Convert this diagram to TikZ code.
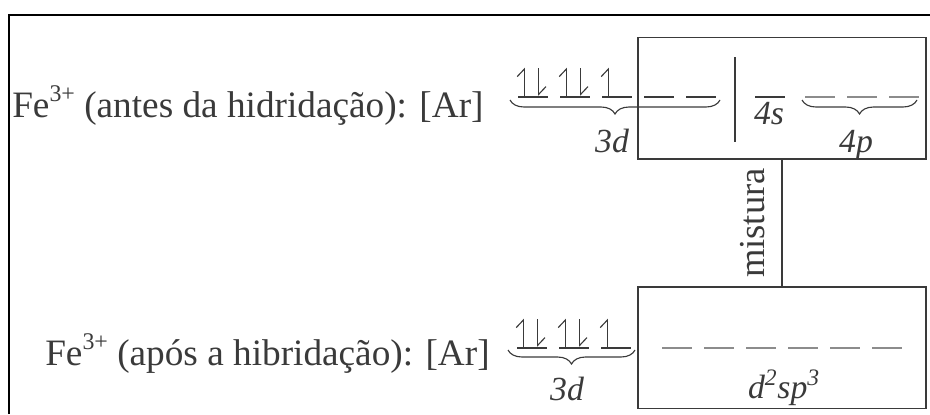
\documentclass[tikz,border=0pt]{standalone}
\usepackage{fontspec}
\setmainfont{Liberation Serif}
\usetikzlibrary{arrows.meta,positioning,decorations.pathreplacing}
\definecolor{ink}{HTML}{3A3A3A}
\definecolor{faint}{HTML}{8C8C8C}
\newcommand{\ironion}{Fe\raisebox{.42em}{\fontsize{17}{17}\selectfont 3+}}

\begin{document}
\begin{tikzpicture}[
  font=\fontsize{26}{31}\selectfont,
  text=ink,
  box/.style={draw=ink,line width=.9pt,minimum width=7.2cm,minimum height=3.03cm,inner sep=0pt},
  orbital/.style={draw=ink,line width=1.1pt},
  emptyorb/.style={draw=faint,line width=1.2pt},
  spin/.style={-{Straight Barb[left,length=1.9mm,width=3.6mm]},draw=ink,line width=.8pt},
  subshell/.style={decorate,decoration={brace,mirror,amplitude=3.5mm},draw=ink,line width=.8pt},
  level/.style={font=\fontsize{24}{29}\selectfont\itshape,anchor=base,inner sep=0pt},
  config/.style={font=\fontsize{26.5}{31}\selectfont,anchor=base west,inner sep=0pt}
]
\useasboundingbox (0,0) rectangle (23.25,10.35);
\draw[black,line width=1.8pt] (0.225,0) -- (0.225,9.975) -- (23.25,9.975);

\node[box] (before) at (19.55,7.89) {};
\node[box] (after) at (19.55,1.66) {};
\draw[draw=ink,line width=.9pt] (before.south) -- node[midway,rotate=90,anchor=south,inner xsep=0pt,inner ysep=4.2mm] (mix) {mistura} (after.north);
\draw[draw=ink,line width=.9pt] (18.375,8.925) -- (18.375,6.8);

\node[config] (beforecfg) at (0.3,7.425) {\ironion{} (antes da hidridação): [Ar]};
\node[config] (aftercfg) at (1.125,1.225) {\ironion{} (após a hibridação): [Ar]};

\foreach \x in {12.95,14.0,15.05,16.1,17.15,18.875}
  \draw[orbital] (\x,7.925) -- ++(0.75,0);
\foreach \x in {20.125,21.175,22.225}
  \draw[emptyorb] (\x,7.925) -- ++(0.75,0);
\foreach \x in {12.95,14.0,15.05}
  \draw[spin] (\x+0.16,7.96) -- ++(0,0.7);
\foreach \x in {12.95,14.0}
  \draw[spin] (\x+0.52,8.64) -- ++(0,-0.68);

\foreach \x in {12.925,13.975,15.025}
  \draw[orbital] (\x,1.65) -- ++(0.75,0);
\foreach \x in {12.925,13.975,15.025}
  \draw[spin] (\x+0.16,1.685) -- ++(0,0.7);
\foreach \x in {12.925,13.975}
  \draw[spin] (\x+0.52,2.365) -- ++(0,-0.68);
\foreach \k in {0,...,5}
  \draw[emptyorb] (16.55+1.05*\k,1.65) -- ++(0.75,0);

\draw[subshell] (12.75,7.85) -- (18.0,7.85);
\draw[subshell] (20.05,7.85) -- (22.925,7.85);
\draw[subshell] (12.7,1.6) -- (15.875,1.6);

\node[level] (dtop) at (15.3,6.55) {3d};
\node[level] (sfour) at (19.225,7.25) {4s};
\node[level] (pfour) at (21.4,6.55) {4p};
\node[level] (dbottom) at (14.175,0.35) {3d};
\node[level] (hybrid) at (19.6,0.4) {d\textsuperscript{2}sp\textsuperscript{3}};
\end{tikzpicture}
\end{document}
